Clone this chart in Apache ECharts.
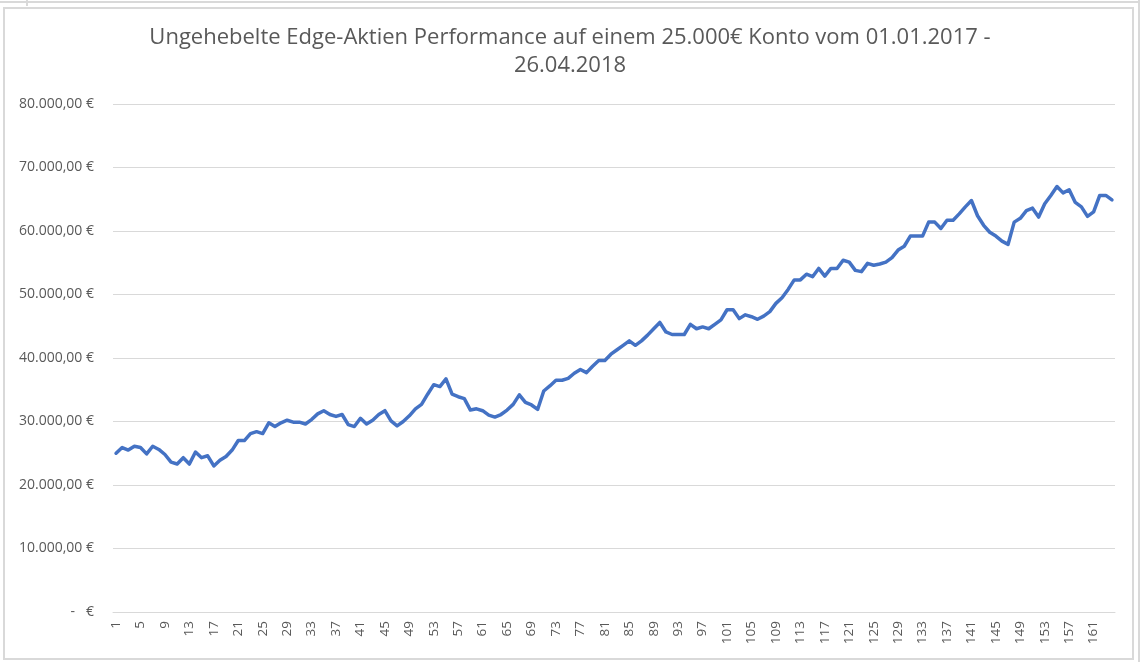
<!DOCTYPE html>
<html>
<head>
<meta charset="utf-8">
<script src="https://cdn.jsdelivr.net/npm/echarts@6/dist/echarts.min.js"></script>
<style>
html,body{margin:0;padding:0;background:#fff;}
#wrap{position:relative;width:1140px;height:662px;overflow:hidden;background:#fff;}
#chart{position:absolute;left:0;top:0;width:1140px;height:662px;}
.ln{position:absolute;background:#d9d9d9;}
</style>
</head>
<body>
<div id="wrap">
  <div id="chart"></div>
  <div class="ln" style="left:0;top:1px;width:1140px;height:2px;"></div>
  <div class="ln" style="left:26px;top:0;width:2px;height:6px;"></div>
  <div class="ln" style="left:3px;top:7px;width:1131px;height:2px;"></div>
  <div class="ln" style="left:3px;top:7px;width:2px;height:653px;"></div>
  <div class="ln" style="left:1132px;top:7px;width:2px;height:653px;"></div>
  <div class="ln" style="left:3px;top:658px;width:1131px;height:2px;"></div>
  <div class="ln" style="left:1138px;top:0;width:2px;height:662px;"></div>
</div>
<script>
const titleText = "Ungehebelte Edge-Aktien Performance auf einem 25.000€ Konto vom 01.01.2017 -\n26.04.2018";

const values1 = [25000,25900,25500,26100,25900,24900,26100,25600,24800,23600,
                 23300,24300,23300,25200,24300,24600,23000,23900,24500,25500,
                 27000,27000,28100,28400,28100,29800,29200,29800,30200,29900,
                 29900,29600,30300,31200,31700,31100,30800,31100,29500,29200];
const values2 = [30500,29600,30200,31100,31700,30100,29300,30000,30900,32000,
                 32700,34300,35800,35500,36700,34300,33900,33600,31800,32000,
                 31700,31000,30700,31100,31800,32700,34200,33000,32600,31900,
                 34800,35600,36500,36500,36800,37600,38200,37700,38700,39600];
const values3 = [39600,40600,41300,42000,42700,42000,42700,43600,44600,45600,
                 44100,43700,43700,43700,45300,44600,44900,44600,45300,46000,
                 47600,47600,46200,46800,46500,46100,46600,47300,48600,49500,
                 50800,52300,52300,53200,52800,54100,52900,54100,54100,55400];
const values4 = [55100,53800,53600,54900,54600,54800,55100,55800,57000,57600,
                 59200,59200,59200,61400,61400,60400,61700,61700,62700,63800,
                 64800,62400,60900,59800,59200,58400,57900,61400,62000,63200,
                 63600,62200,64300,65600,67000,66000,66500,64500,63800,62300,
                 63000,65600,65600,64900];
const values = values1.concat(values2, values3, values4);
const categories = values.map((v, i) => String(i + 1));
const yTicks = [0,10000,20000,30000,40000,50000,60000,70000,80000];

function fmtEuro(v){
  if (v === 0) return "-   €";
  const s = Math.round(v).toString().replace(/\B(?=(\d{3})+(?!\d))/g, ".");
  return s + ",00 €";
}

const chart = echarts.init(document.getElementById('chart'), null, {renderer:'canvas'});
chart.setOption({
  animation:false,
  backgroundColor:'transparent',
  title:{
    text:titleText,
    left:'center',
    top:19,
    textStyle:{fontFamily:'Open Sans', fontSize:22, fontWeight:'normal', color:'#595959', lineHeight:28}
  },
  grid:{left:113, right:25, top:104, bottom:50, containLabel:false},
  xAxis:{
    type:'category',
    data:categories,
    boundaryGap:true,
    axisLine:{show:true, lineStyle:{color:'#d9d9d9', width:1}},
    axisTick:{show:false},
    axisLabel:{interval:3, rotate:90, margin:9, color:'#595959', fontFamily:'Open Sans', fontSize:13.5}
  },
  yAxis:{
    type:'value',
    min:yTicks[0], max:yTicks[yTicks.length-1], interval:10000,
    axisLine:{show:false},
    axisTick:{show:false},
    splitLine:{show:true, lineStyle:{color:'#d9d9d9', width:1}},
    axisLabel:{margin:19, color:'#595959', fontFamily:'Open Sans', fontSize:14, formatter:fmtEuro}
  },
  series:[{
    type:'line',
    data:values,
    showSymbol:false,
    symbol:'none',
    lineStyle:{color:'#4472C4', width:3.5, join:'round', cap:'round'},
    itemStyle:{color:'#4472C4'}
  }]
});
</script>
</body>
</html>
